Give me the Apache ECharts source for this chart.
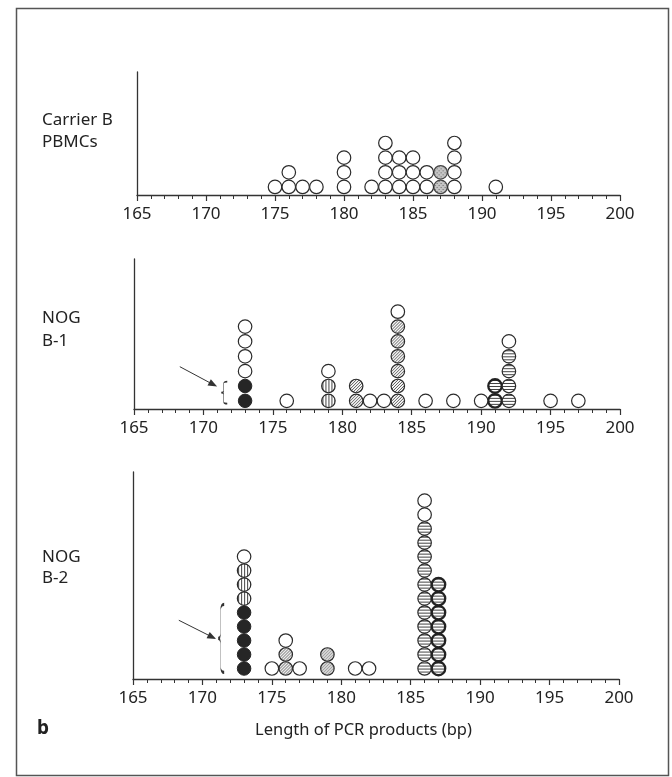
<!DOCTYPE html>
<html>
<head>
<meta charset="utf-8">
<script src="https://cdn.jsdelivr.net/npm/echarts@6/dist/echarts.min.js"></script>
<style>
  html, body { margin: 0; padding: 0; background: #fff; }
  #chart { width: 672px; height: 777px; }
</style>
</head>
<body>
<div id="chart"></div>
<script>
// clone counts per PCR product length [length (bp), number of circles], by fill pattern
// Carrier B PBMCs
const pbmcOpen = [[175, 1], [176, 2], [177, 1], [178, 1], [180, 3], [182, 1], [183, 4], [184, 3], [185, 3], [186, 2], [188, 4], [191, 1]];
const pbmcDotted = [[187, 2]];

// NOG B-1
const b1Filled = [[173, 2]];
const b1VStripe = [[179, 2]];
const b1Diag = [[181, 2], [184, 6]];
const b1HStripe = [[192, 4]];
const b1Ring = [[191, 2]];
const b1Open = [[173, 4], [176, 1], [179, 1], [182, 1], [183, 1], [184, 1], [186, 1], [188, 1], [190, 1], [192, 1], [195, 1], [197, 1]];

// NOG B-2
const b2Filled = [[173, 5]];
const b2VStripe = [[173, 3]];
const b2Diag = [[176, 2], [179, 2]];
const b2HStripe = [[186, 11]];
const b2Ring = [[187, 7]];
const b2Open = [[173, 1], [175, 1], [176, 1], [177, 1], [181, 1], [182, 1], [186, 2]];

const xMin = 165, xMax = 200, xStep = 5;
const panelNames = [['Carrier B', 'PBMCs'], ['NOG', 'B-1'], ['NOG', 'B-2']];

const INK = '#2b2b2b';
const FONT = 'Noto Sans';
const DOT = 13.5;

// symbols are drawn at unit size and scaled by DOT/2, so undo that on the pattern
function makePattern(kind) {
  const c = document.createElement('canvas');
  const s = kind === 'dotted' ? 4 : 3;
  c.width = s; c.height = s;
  const g = c.getContext('2d');
  g.fillStyle = '#fff';
  g.fillRect(0, 0, s, s);
  g.strokeStyle = '#3a3a3a';
  g.lineWidth = 0.9;
  if (kind === 'vstripe') {
    g.fillStyle = '#444';
    g.fillRect(0, 0, 1, s);
  } else if (kind === 'hstripe') {
    g.fillStyle = '#444';
    g.fillRect(0, 0, s, 1);
  } else if (kind === 'diag') {
    g.beginPath();
    g.moveTo(-1, s + 1); g.lineTo(s + 1, -1);
    g.moveTo(-1, 1); g.lineTo(1, -1);
    g.moveTo(s - 1, s + 1); g.lineTo(s + 1, s - 1);
    g.stroke();
  } else if (kind === 'dotted') {
    g.fillStyle = '#c4c4c4';
    g.fillRect(0, 0, s, s);
    g.fillStyle = '#6a6a6a';
    g.fillRect(0, 0, 1, 1);
    g.fillRect(2, 2, 1, 1);
  }
  const k = 2 / DOT;
  return { image: c, repeat: 'repeat', scaleX: k, scaleY: k };
}

const styles = {
  filled: { color: '#262626', borderColor: '#262626', borderWidth: 1 },
  vstripe: { color: makePattern('vstripe'), borderColor: INK, borderWidth: 1.2 },
  diag: { color: makePattern('diag'), borderColor: INK, borderWidth: 1.2 },
  hstripe: { color: makePattern('hstripe'), borderColor: INK, borderWidth: 1.2 },
  ring: { color: makePattern('hstripe'), borderColor: '#222', borderWidth: 2.3 },
  dotted: { color: makePattern('dotted'), borderColor: '#444', borderWidth: 1.2 },
  open: { color: '#fff', borderColor: INK, borderWidth: 1.2 }
};

// stacking order, bottom to top
const panels = [
  { base: 0.55, yMax: 8.4, layers: [['dotted', pbmcDotted], ['open', pbmcOpen]] },
  { base: 0.55, yMax: 10.1, layers: [['filled', b1Filled], ['vstripe', b1VStripe], ['diag', b1Diag], ['ring', b1Ring], ['hstripe', b1HStripe], ['open', b1Open]] },
  { base: 0.75, yMax: 14.8, layers: [['filled', b2Filled], ['vstripe', b2VStripe], ['diag', b2Diag], ['hstripe', b2HStripe], ['ring', b2Ring], ['open', b2Open]] }
];

const grids = [
  { left: 137, right: 52, top: 72, height: 123 },
  { left: 134, right: 52, top: 259, height: 150 },
  { left: 133, right: 53, top: 472, height: 207 }
];

const series = [];
panels.forEach((p, pi) => {
  const heights = {};
  p.layers.forEach(([kind, counts]) => {
    const pts = [];
    counts.forEach(([len, n]) => {
      const h = heights[len] || 0;
      for (let k = 0; k < n; k++) pts.push([len, p.base + h + k]);
      heights[len] = h + n;
    });
    series.push({
      type: 'scatter',
      xAxisIndex: pi,
      yAxisIndex: pi,
      symbol: 'circle',
      symbolSize: DOT,
      silent: true,
      itemStyle: Object.assign({ opacity: 1 }, styles[kind]),
      data: pts
    });
  });
});

// arrows and braces marking the filled clones
const bracePath = 'path://M10,0 Q4,0 4,8 L4,42 Q4,50 0,50 Q4,50 4,58 L4,92 Q4,100 10,100';
const marks = [
  { panel: 1, arrow: [[168.3, 2.85], [170.7, 1.65]], brace: [171.5, 1.1], braceH: 22 },
  { panel: 2, arrow: [[168.3, 4.2], [170.7, 3.0]], brace: [171.35, 2.9], braceH: 68 }
];
marks.forEach(m => {
  series.push({
    type: 'scatter',
    xAxisIndex: m.panel,
    yAxisIndex: m.panel,
    data: [],
    silent: true,
    markLine: {
      silent: true,
      symbol: ['none', 'triangle'],
      symbolSize: [7, 9],
      lineStyle: { color: '#333', width: 1, type: 'solid' },
      label: { show: false },
      data: [[{ coord: m.arrow[0] }, { coord: m.arrow[1] }]]
    },
    markPoint: {
      silent: true,
      symbol: bracePath,
      symbolKeepAspect: false,
      symbolSize: [6, m.braceH],
      itemStyle: { color: 'none', borderColor: '#333', borderWidth: 1 },
      label: { show: false },
      data: [{ coord: m.brace }]
    }
  });
});

const xAxes = grids.map((g, i) => ({
  gridIndex: i,
  type: 'value',
  min: xMin,
  max: xMax,
  interval: xStep,
  axisLine: { show: true, onZero: false, lineStyle: { color: '#333', width: 1.3 } },
  axisTick: { show: true, length: 6, lineStyle: { color: '#333', width: 1.2 } },
  minorTick: { show: true, splitNumber: 5, length: 4, lineStyle: { color: '#333', width: 1 } },
  splitLine: { show: false },
  minorSplitLine: { show: false },
  axisLabel: { fontSize: 17, color: '#222', margin: 11, fontFamily: FONT }
}));

const yAxes = grids.map((g, i) => ({
  gridIndex: i,
  type: 'value',
  min: 0,
  max: panels[i].yMax,
  axisLine: { show: true, onZero: false, lineStyle: { color: '#333', width: 1.3 } },
  axisTick: { show: false },
  axisLabel: { show: false },
  splitLine: { show: false }
}));

const labelY = [[124, 146], [322, 345], [561, 582]];
const texts = [];
panelNames.forEach((lines, i) => {
  lines.forEach((t, j) => {
    texts.push({
      type: 'text', left: 42, top: labelY[i][j] - 12,
      style: { text: t, fontSize: 17, fontFamily: FONT, fill: '#222' }
    });
  });
});
texts.push({
  type: 'text', left: 37, top: 719,
  style: { text: 'b', fontSize: 19, fontWeight: 'bold', fontFamily: FONT, fill: '#222' }
});
texts.push({
  type: 'text', left: 255, top: 722,
  style: { text: 'Length of PCR products (bp)', fontSize: 16.5, fontFamily: FONT, fill: '#222' }
});
texts.push({
  type: 'rect', left: 14, top: 6, z: -1,
  shape: { width: 652, height: 767 },
  style: { fill: 'none', stroke: '#555', lineWidth: 1.5 }
});

const chart = echarts.init(document.getElementById('chart'));
chart.setOption({
  backgroundColor: '#fff',
  animation: false,
  grid: grids,
  xAxis: xAxes,
  yAxis: yAxes,
  graphic: texts,
  series
});
</script>
</body>
</html>
